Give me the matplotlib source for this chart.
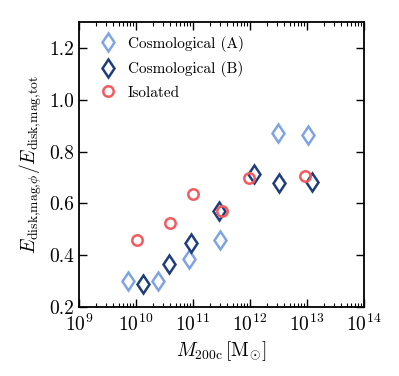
import numpy as np
import matplotlib
matplotlib.use('Agg')
import matplotlib.pyplot as plt
from matplotlib.ticker import LogLocator, NullFormatter

plt.rcParams['font.family'] = 'serif'
plt.rcParams['font.serif'] = ['cmr10']
plt.rcParams['mathtext.fontset'] = 'cm'
plt.rcParams['axes.formatter.use_mathtext'] = True
plt.rcParams['axes.unicode_minus'] = False

# log10 of M200c and energy ratio
logm_A = [9.86, 10.39, 10.93, 11.47, 12.49, 13.02]
frac_A = [0.30, 0.30, 0.385, 0.46, 0.87, 0.864]

logm_B = [10.12, 10.58, 10.97, 11.46, 12.07, 12.51, 13.09]
frac_B = [0.29, 0.366, 0.447, 0.571, 0.713, 0.678, 0.682]

logm_iso = [10.02, 10.60, 11.00, 11.51, 11.98, 12.96]
frac_iso = [0.459, 0.524, 0.636, 0.57, 0.697, 0.707]

c_A = '#7fa4e6'
c_B = '#1f3d7a'
c_iso = '#f45b5f'

fig = plt.figure(figsize=(3.99, 3.76), dpi=100)
ax = fig.add_axes([0.198, 0.1835, 0.714, 0.758])

ax.plot(10**np.array(logm_A), frac_A, ls='none', marker='d', ms=9.5, mfc='none',
        mec=c_A, mew=1.8, label='Cosmological (A)')
ax.plot(10**np.array(logm_B), frac_B, ls='none', marker='d', ms=9.5, mfc='none',
        mec=c_B, mew=1.8, label='Cosmological (B)')
ax.plot(10**np.array(logm_iso), frac_iso, ls='none', marker='o', ms=7.5, mfc='none',
        mec=c_iso, mew=1.8, label='Isolated')

ax.set_xscale('log')
ax.set_xlim(1e9, 1e14)
ax.xaxis.set_major_locator(LogLocator(base=10, numticks=10))
ax.xaxis.set_minor_locator(LogLocator(base=10, subs=np.arange(2, 10), numticks=20))
ax.xaxis.set_minor_formatter(NullFormatter())
ax.set_ylim(0.2, 1.3)
ax.set_yticks([0.2, 0.4, 0.6, 0.8, 1.0, 1.2])
ax.set_yticklabels(['0.2', '0.4', '0.6', '0.8', '1.0', '1.2'])

ax.tick_params(which='both', direction='in', top=True, right=True, labelsize=14)
ax.tick_params(which='major', length=6, width=1)
ax.tick_params(which='minor', length=3, width=0.8)
ax.tick_params(axis='x', which='major', pad=5)
for s in ax.spines.values():
    s.set_linewidth(1.3)

ax.set_xlabel(r'$M_{\rm 200c}\,[{\rm M}_{\odot}]$', fontsize=14, labelpad=3)
ax.set_ylabel(r'$E_{{\rm disk{,}mag{,}}\phi}/E_{\rm disk{,}mag{,}tot}$', fontsize=14)

ax.legend(loc='upper left', frameon=False, numpoints=1, fontsize=11,
          handletextpad=0.3, borderaxespad=0.5, labelspacing=0.6)

fig.savefig('out.png', dpi=100)
